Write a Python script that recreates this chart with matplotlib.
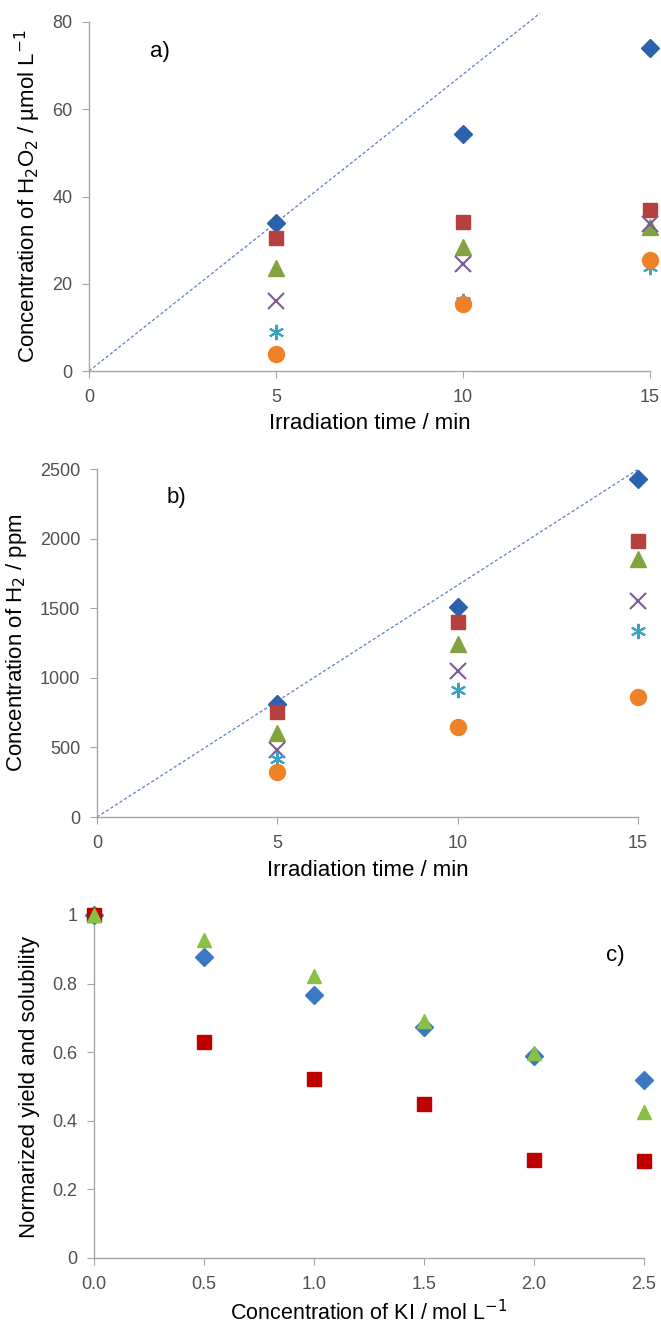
import numpy as np
import matplotlib.pyplot as plt
from matplotlib.transforms import blended_transform_factory

# panel a: H2O2 concentration (umol/L)
t = [5, 10, 15]
h2o2_diamond = [34.0, 54.4, 74.0]
h2o2_square = [30.5, 34.1, 36.8]
h2o2_triangle = [23.5, 28.5, 33.0]
h2o2_cross = [16.0, 24.5, 33.6]
h2o2_star = [8.9, 16.0, 23.8]
h2o2_circle = [3.8, 15.3, 25.4]
h2o2_slope = 6.8

# panel b: H2 concentration (ppm)
h2_diamond = [810, 1510, 2430]
h2_square = [755, 1400, 1980]
h2_triangle = [600, 1245, 1850]
h2_cross = [480, 1050, 1555]
h2_star = [420, 910, 1335]
h2_circle = [320, 645, 865]
h2_slope = 166.5

# panel c: normalized yield and solubility vs KI
ki = [0.0, 0.5, 1.0, 1.5, 2.0, 2.5]
c_diamond = [1.0, 0.877, 0.767, 0.673, 0.590, 0.520]
c_square = [1.0, 0.630, 0.522, 0.450, 0.285, 0.283]
c_triangle = [1.0, 0.927, 0.822, 0.690, 0.598, 0.427]

font = 'Liberation Sans'
fig = plt.figure(figsize=(6.61, 13.26), dpi=100)
W, H = 661.0, 1326.0


def make_ax(x0, x1, ytop, ybot):
    return fig.add_axes([x0 / W, 1 - ybot / H, (x1 - x0) / W, (ybot - ytop) / H])


def style(ax):
    for s in ['top', 'right']:
        ax.spines[s].set_visible(False)
    for s in ['left', 'bottom']:
        ax.spines[s].set_color('#a6a6a6')
        ax.spines[s].set_linewidth(1.0)
    ax.tick_params(direction='out', length=5, color='#a6a6a6', labelcolor='#505050',
                   labelsize=13)
    ax.tick_params(axis='x', pad=8)
    ax.tick_params(axis='y', pad=7)
    for lab in ax.get_xticklabels() + ax.get_yticklabels():
        lab.set_family(font)


def place_labels(ax, xlab, ylab, xlab_top, ylab_right, xsize=16):
    ax.set_xlabel(xlab, fontsize=xsize, family=font)
    ax.set_ylabel(ylab, fontsize=16, family=font)
    ax.xaxis.set_label_coords(0.5, 1 - xlab_top / H,
                              transform=blended_transform_factory(ax.transAxes, fig.transFigure))
    ax.yaxis.set_label_coords(ylab_right / W, 0.5,
                              transform=blended_transform_factory(fig.transFigure, ax.transAxes))


series_style = [
    dict(marker='D', color='#2c62ad', ms=9.5),
    dict(marker='s', color='#b5403e', ms=10.5),
    dict(marker='^', color='#82a33d', ms=12),
    dict(marker='x', color='#7a5c98', ms=11, mew=1.5),
    dict(marker=(6, 2, 0), color='#3ba3c1', ms=11, mew=1.5),
    dict(marker='o', color='#ef8226', ms=11.5),
]


def scatter_panel(ax, ys):
    for y, st in zip(ys, series_style):
        kw = dict(st)
        c = kw.pop('color')
        ax.plot(t, y, linestyle='none', color=c, mec=c, mfc=c, clip_on=False, zorder=3, **kw)


# ---- a) ----
ax = make_ax(89, 650, 22, 371)
ax.set_xlim(0, 15)
ax.set_ylim(0, 80)
xl = np.array([0, 82 / h2o2_slope])
ax.plot(xl, h2o2_slope * xl, ls=(0, (2.5, 1.8)), color='#5b7fc4', lw=0.9, clip_on=False)
scatter_panel(ax, [h2o2_diamond, h2o2_square, h2o2_triangle, h2o2_cross, h2o2_star, h2o2_circle])
ax.set_xticks([0, 5, 10, 15])
ax.set_yticks([0, 20, 40, 60, 80])
style(ax)
place_labels(ax, 'Irradiation time / min',
             r'Concentration of H$_2$O$_2$ / µmol L$^{-1}$', 413, 43)
ax.text(150 / W, 1 - 52 / H, 'a)', transform=fig.transFigure, fontsize=16,
        family=font, va='center')

# ---- b) ----
ax = make_ax(97, 638, 469, 817)
ax.set_xlim(0, 15)
ax.set_ylim(0, 2500)
xl = np.array([0, 15])
ax.plot(xl, h2_slope * xl, ls=(0, (2.5, 1.8)), color='#5b7fc4', lw=0.9, clip_on=False)
scatter_panel(ax, [h2_diamond, h2_square, h2_triangle, h2_cross, h2_star, h2_circle])
ax.set_xticks([0, 5, 10, 15])
ax.set_yticks([0, 500, 1000, 1500, 2000, 2500])
style(ax)
place_labels(ax, 'Irradiation time / min', r'Concentration of H$_2$ / ppm', 860, 29)
ax.text(167 / W, 1 - 497 / H, 'b)', transform=fig.transFigure, fontsize=16,
        family=font, va='center')

# ---- c) ----
ax = make_ax(94, 644, 915, 1258)
ax.set_xlim(0, 2.5)
ax.set_ylim(0, 1)
ax.plot(ki, c_diamond, 'D', color='#3a78c3', ms=9, clip_on=False, zorder=3)
ax.plot(ki, c_square, 's', color='#c00000', ms=9.5, clip_on=False, zorder=3)
ax.plot(ki, c_triangle, '^', color='#86c145', ms=10.5, clip_on=False, zorder=3)
ax.set_xticks(ki)
ax.set_xticklabels(['%.1f' % v for v in ki])
ax.set_yticks([0, 0.2, 0.4, 0.6, 0.8, 1.0])
ax.set_yticklabels(['0', '0.2', '0.4', '0.6', '0.8', '1'])
style(ax)
place_labels(ax, r'Concentration of KI / mol L$^{-1}$',
             'Normarized yield and solubility', 1300, 40, xsize=15.5)
ax.text(606 / W, 1 - 955 / H, 'c)', transform=fig.transFigure, fontsize=16,
        family=font, va='center')

fig.savefig('out.png', dpi=100)
